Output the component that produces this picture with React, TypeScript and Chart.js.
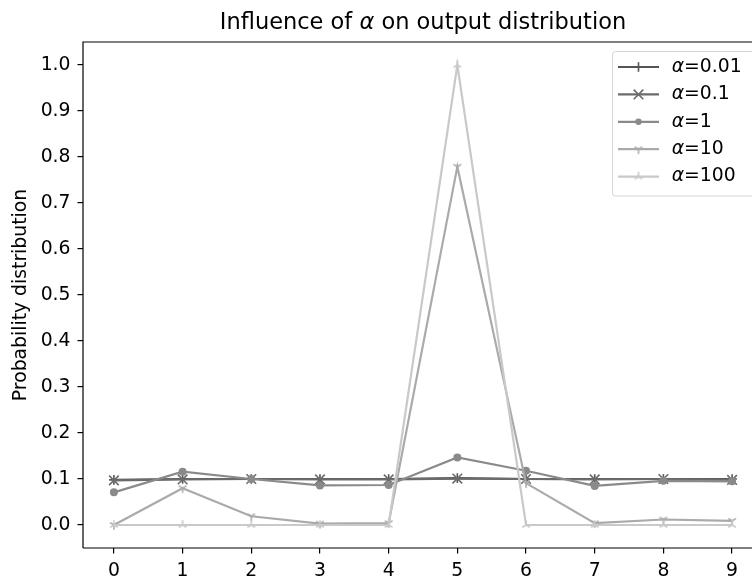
import React, { useEffect, useRef } from 'react';
import { Chart, registerables } from 'chart.js';

Chart.register(...registerables);

// ---- data ----
const xValues = [0, 1, 2, 3, 4, 5, 6, 7, 8, 9];
const alpha001 = [0.098, 0.1, 0.1, 0.1, 0.1, 0.102, 0.1, 0.1, 0.1, 0.1];
const alpha01 = [0.097, 0.099, 0.1, 0.099, 0.099, 0.101, 0.1, 0.099, 0.1, 0.098];
const alpha1 = [0.071, 0.116, 0.1, 0.086, 0.087, 0.147, 0.118, 0.085, 0.096, 0.095];
const alpha10 = [0.0, 0.08, 0.019, 0.003, 0.004, 0.779, 0.091, 0.004, 0.012, 0.009];
const alpha100 = [0, 0, 0, 0, 0, 1.0, 0, 0, 0, 0];
const seriesValues = ['0.01', '0.1', '1', '10', '100'];
const yTicks = [0, 0.1, 0.2, 0.3, 0.4, 0.5, 0.6, 0.7, 0.8, 0.9, 1.0];
const xTicks = [0, 1, 2, 3, 4, 5, 6, 7, 8, 9];
const titleBefore = 'Influence of ';
const titleSymbol = 'α';
const titleAfter = ' on output distribution';
const yAxisTitle = 'Probability distribution';

// ---- styles ----
const COLORS = ['#555555', '#6b6b6b', '#8a8a8a', '#aaaaaa', '#c9c9c9'];
const MARKERS = ['plus', 'x', 'dot', 'tri_down', 'tri_up'];
const FONT = 'DejaVu Sans';
const TICK_SIZE = 18.8;
const TITLE_SIZE = 22.5;
const LINE_W = 2.2;

function makeTri(color: string, up: boolean): HTMLCanvasElement {
  const c = document.createElement('canvas');
  c.width = 14;
  c.height = 14;
  const ctx = c.getContext('2d')!;
  ctx.strokeStyle = color;
  ctx.lineWidth = 1.6;
  const cx = 7, cy = 7, s = 4.8;
  const d = up ? -1 : 1;
  ctx.beginPath();
  ctx.moveTo(cx, cy); ctx.lineTo(cx, cy + d * s);
  ctx.moveTo(cx, cy); ctx.lineTo(cx + 0.8 * s, cy - d * 0.5 * s);
  ctx.moveTo(cx, cy); ctx.lineTo(cx - 0.8 * s, cy - d * 0.5 * s);
  ctx.stroke();
  return c;
}

function pointStyleFor(marker: string, color: string): any {
  if (marker === 'plus') return { style: 'cross', radius: 4.8 };
  if (marker === 'x') return { style: 'crossRot', radius: 6.8 };
  if (marker === 'dot') return { style: 'circle', radius: 3.2 };
  if (marker === 'tri_down') return { style: makeTri(color, false), radius: 4 };
  return { style: makeTri(color, true), radius: 4 };
}

export default function App() {
  const ref = useRef<HTMLCanvasElement | null>(null);

  useEffect(() => {
    const canvas = ref.current!;
    const all = [alpha001, alpha01, alpha1, alpha10, alpha100];
    const styles = MARKERS.map((m, i) => pointStyleFor(m, COLORS[i]));

    const datasets = all.map((vals, i) => ({
      label: 'α=' + seriesValues[i],
      data: xValues.map((x, j) => ({ x, y: vals[j] })),
      borderColor: COLORS[i],
      backgroundColor: COLORS[i],
      borderWidth: LINE_W,
      pointStyle: styles[i].style,
      pointRadius: styles[i].radius,
      pointHoverRadius: styles[i].radius,
      pointBorderColor: COLORS[i],
      pointBackgroundColor: COLORS[i],
      pointBorderWidth: 1.6,
      tension: 0,
      fill: false,
      order: all.length - 1 - i,
    }));

    const decor = {
      id: 'decor',
      afterDatasetsDraw(chart: any) {
        const { ctx, chartArea: a } = chart;
        ctx.save();
        ctx.strokeStyle = '#000';
        ctx.lineWidth = 1.2;
        ctx.beginPath();
        ctx.moveTo(a.left, a.bottom);
        ctx.lineTo(a.left, a.top);
        ctx.lineTo(a.right, a.top);
        ctx.lineTo(a.right, a.bottom);
        ctx.lineTo(a.left, a.bottom);
        ctx.stroke();
        ctx.restore();
      },
      afterDraw(chart: any) {
        const { ctx, chartArea: a } = chart;
        ctx.save();
        // title
        ctx.fillStyle = '#000';
        ctx.textBaseline = 'alphabetic';
        ctx.textAlign = 'left';
        const nf = `${TITLE_SIZE}px "${FONT}"`;
        const itf = `italic ${TITLE_SIZE}px "${FONT}"`;
        ctx.font = nf;
        const w1 = ctx.measureText(titleBefore).width;
        const w3 = ctx.measureText(titleAfter).width;
        ctx.font = itf;
        const w2 = ctx.measureText(titleSymbol).width;
        const total = w1 + w2 + w3;
        let tx = (a.left + a.right) / 2 - total / 2;
        const ty = 29;
        ctx.font = nf;
        ctx.fillText(titleBefore, tx, ty);
        tx += w1;
        ctx.font = itf;
        ctx.fillText(titleSymbol, tx, ty);
        tx += w2;
        ctx.font = nf;
        ctx.fillText(titleAfter, tx, ty);

        // legend
        const lx = 612.5, ly = 51.5, lw = 170, lh = 144.5, r = 3;
        ctx.beginPath();
        ctx.moveTo(lx + r, ly);
        ctx.lineTo(lx + lw - r, ly);
        ctx.arcTo(lx + lw, ly, lx + lw, ly + r, r);
        ctx.lineTo(lx + lw, ly + lh - r);
        ctx.arcTo(lx + lw, ly + lh, lx + lw - r, ly + lh, r);
        ctx.lineTo(lx + r, ly + lh);
        ctx.arcTo(lx, ly + lh, lx, ly + lh - r, r);
        ctx.lineTo(lx, ly + r);
        ctx.arcTo(lx, ly, lx + r, ly, r);
        ctx.closePath();
        ctx.fillStyle = 'rgba(255,255,255,0.8)';
        ctx.fill();
        ctx.strokeStyle = 'rgba(204,204,204,0.8)';
        ctx.lineWidth = 1;
        ctx.stroke();

        for (let i = 0; i < seriesValues.length; i++) {
          const cy = 67 + i * 27.4;
          const col = COLORS[i];
          ctx.strokeStyle = col;
          ctx.lineWidth = LINE_W;
          ctx.beginPath();
          ctx.moveTo(618, cy);
          ctx.lineTo(659, cy);
          ctx.stroke();
          const mx = 638.5;
          const m = MARKERS[i];
          ctx.lineWidth = 1.6;
          if (m === 'plus') {
            ctx.beginPath();
            ctx.moveTo(mx - 4.8, cy); ctx.lineTo(mx + 4.8, cy);
            ctx.moveTo(mx, cy - 4.8); ctx.lineTo(mx, cy + 4.8);
            ctx.stroke();
          } else if (m === 'x') {
            ctx.beginPath();
            ctx.moveTo(mx - 4.8, cy - 4.8); ctx.lineTo(mx + 4.8, cy + 4.8);
            ctx.moveTo(mx - 4.8, cy + 4.8); ctx.lineTo(mx + 4.8, cy - 4.8);
            ctx.stroke();
          } else if (m === 'dot') {
            ctx.fillStyle = col;
            ctx.beginPath();
            ctx.arc(mx, cy, 3.2, 0, Math.PI * 2);
            ctx.fill();
          } else {
            const img = styles[i].style as HTMLCanvasElement;
            ctx.drawImage(img, mx - img.width / 2, cy - img.height / 2);
          }
          // label
          ctx.fillStyle = '#000';
          ctx.textBaseline = 'middle';
          const lf = `${TICK_SIZE}px "${FONT}"`;
          const lif = `italic ${TICK_SIZE}px "${FONT}"`;
          ctx.font = lif;
          ctx.fillText('α', 671.7, cy);
          const aw = ctx.measureText('α').width;
          ctx.font = lf;
          ctx.fillText('=' + seriesValues[i], 671.7 + aw, cy);
        }
        ctx.restore();
      },
    };

    const chart = new Chart(canvas, {
      type: 'line',
      data: { datasets } as any,
      options: {
        animation: false,
        responsive: false,
        maintainAspectRatio: false,
        events: [],
        layout: { padding: { top: 42, right: 17, left: 0, bottom: 0 } },
        plugins: {
          legend: { display: false },
          title: { display: false },
          tooltip: { enabled: false },
        },
        scales: {
          x: {
            type: 'linear',
            min: -0.45,
            max: 9.45,
            afterFit: (s: any) => { s.height = 30; },
            afterBuildTicks: (s: any) => { s.ticks = xTicks.map((v) => ({ value: v })); },
            ticks: {
              color: '#000',
              font: { family: FONT, size: TICK_SIZE },
              padding: 6,
              maxRotation: 0,
              autoSkip: false,
              callback: (v: any) => String(v),
            },
            grid: { display: true, drawOnChartArea: false, drawTicks: true, tickLength: 5.5, color: '#000', lineWidth: 1.2 },
            border: { display: false },
          },
          y: {
            type: 'linear',
            min: -0.05,
            max: 1.05,
            afterFit: (s: any) => { s.width = 83; },
            afterBuildTicks: (s: any) => { s.ticks = yTicks.map((v) => ({ value: v })); },
            ticks: {
              color: '#000',
              font: { family: FONT, size: TICK_SIZE },
              padding: 7,
              autoSkip: false,
              callback: (v: any) => Number(v).toFixed(1),
            },
            title: {
              display: true,
              text: yAxisTitle,
              color: '#000',
              font: { family: FONT, size: TICK_SIZE },
              padding: { top: 10, bottom: 0 },
            },
            grid: { display: true, drawOnChartArea: false, drawTicks: true, tickLength: 5.5, color: '#000', lineWidth: 1.2 },
            border: { display: false },
          },
        },
      },
      plugins: [decor],
    } as any);

    return () => chart.destroy();
  }, []);

  return (
    <div style={{ position: 'absolute', left: 0, top: 0, width: 752, height: 578, overflow: 'hidden', background: '#fff' }}>
      <canvas ref={ref} width={780} height={578} style={{ width: 780, height: 578, display: 'block' }} />
    </div>
  );
}
